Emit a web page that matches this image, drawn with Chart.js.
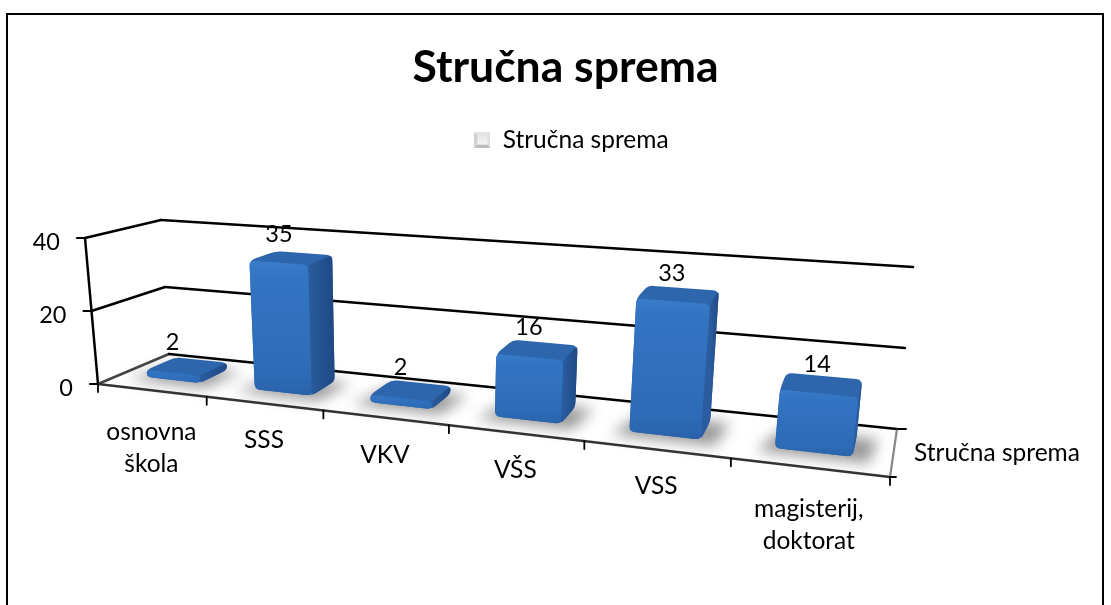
<!DOCTYPE html>
<html><head><meta charset="utf-8">
<style>html,body{margin:0;padding:0;background:#fff}canvas{display:block}</style>
<script src="https://cdn.jsdelivr.net/npm/chart.js@4"></script>
</head><body><canvas id="c" width="1111" height="605"></canvas>
<script>
const categories = [['osnovna','škola'],'SSS','VKV','VŠS','VSS',['magisterij,','doktorat']];
const seriesValues = [2,35,2,16,33,14];
const seriesName = 'Stručna sprema';
const titleText = 'Stručna sprema';
const yMax = 40, yStep = 20;
const FONT = 'Lato';

/* projected box of the 3D plot: [x,y] of corners, index = u + 2*v + 4*h */
const corners = [[98,384],[890,477],[169,354],[897,429],[85,238],[910,301],[161,220],[913,267]];
const wU = [1.257,1], wV = [1,1.09];
function P(u,v,h){
  let sx=0,sy=0,sw=0;
  for(let i=0;i<8;i++){
    const a=i&1,b=(i>>1)&1,c=(i>>2)&1;
    const bas=(a?u:1-u)*(b?v:1-v)*(c?h:1-h);
    const w=bas*(wU[0]+(wU[1]-wU[0])*a)*(wV[0]+(wV[1]-wV[0])*b);
    sx+=w*corners[i][0];sy+=w*corners[i][1];sw+=w;
  }
  return [sx/sw,sy/sw];
}
function line(ctx,a,b,col,lw){ctx.strokeStyle=col;ctx.lineWidth=lw;ctx.beginPath();ctx.moveTo(a[0],a[1]);ctx.lineTo(b[0],b[1]);ctx.stroke();}
function rpoly(ctx,pts,r){
  const n=pts.length;ctx.beginPath();
  for(let i=0;i<n;i++){
    const a=pts[i],nx=pts[(i+1)%n],pv=pts[(i+n-1)%n];
    const lp=Math.hypot(a[0]-pv[0],a[1]-pv[1]),ln=Math.hypot(a[0]-nx[0],a[1]-nx[1]);
    const r1=Math.min(r,lp*.45)/lp,r2=Math.min(r,ln*.45)/ln;
    const s=[a[0]+(pv[0]-a[0])*r1,a[1]+(pv[1]-a[1])*r1];
    const e=[a[0]+(nx[0]-a[0])*r2,a[1]+(nx[1]-a[1])*r2];
    if(i===0)ctx.moveTo(s[0],s[1]);else ctx.lineTo(s[0],s[1]);
    ctx.quadraticCurveTo(a[0],a[1],e[0],e[1]);
  }
  ctx.closePath();
}
function swatch(){
  const s=document.createElement('canvas');s.width=16;s.height=16;
  const x=s.getContext('2d');
  const tri=(pts,col)=>{x.fillStyle=col;x.beginPath();pts.forEach((p,i)=>i?x.lineTo(p[0],p[1]):x.moveTo(p[0],p[1]));x.closePath();x.fill();};
  tri([[0,0],[16,0],[8,8]],'#e4e4e4');
  tri([[0,0],[0,16],[8,8]],'#d2d2d2');
  tri([[16,0],[16,16],[8,8]],'#dedede');
  tri([[0,16],[16,16],[8,8]],'#bcbcbc');
  x.fillStyle='#eeeeee';x.fillRect(3,3,10,10);
  const g=x.createLinearGradient(0,3,0,13);g.addColorStop(0,'#e6e6e6');g.addColorStop(1,'#f4f4f4');
  x.fillStyle=g;x.fillRect(3,3,10,10);
  return s;
}
const V0=.31,V1=.73;
const plot3d={
  id:'plot3d',
  afterLayout(chart){chart.legend.left+=6;chart.legend.right+=6;},
  beforeDraw(chart){
    const c=chart.ctx;c.save();c.fillStyle='#fff';c.fillRect(0,0,1111,605);
    c.strokeStyle='#000';c.lineWidth=2;c.strokeRect(7,14,1096,640);c.restore();
  },
  afterDatasetsDraw(chart){
    const c=chart.ctx,ys=chart.scales.y,xs=chart.scales.x,area=chart.chartArea;
    const hOf=px=>(ys.bottom-px)/(ys.bottom-ys.top);
    c.save();c.lineCap='round';
    // walls & grid
    ys.ticks.forEach(t=>{
      const h=hOf(ys.getPixelForValue(t.value));
      line(c,P(0,0,h),P(0,1,h),h===0?'#444':'#000',2.5);
      line(c,P(0,1,h),P(1,1,h),'#000',2.5);
      const a=P(0,0,h);
      line(c,a,[a[0]-8,a[1]],'#000',2.2);
      c.fillStyle='#000';c.font='23.5px '+FONT;c.textAlign='right';c.textBaseline='middle';
      c.fillText(String(t.value),a[0]-25,a[1]+4);
    });
    line(c,P(0,0,0),P(0,0,1),'#000',2.5);
    line(c,P(0,0,0),P(1,0,0),'#333',2.5);
    line(c,P(1,0,0),P(1,1,0),'#888',2.2);
    // category tick marks and labels
    const n=categories.length;
    for(let i=0;i<=n;i++){
      const a=P(i/n,0,0);
      line(c,a,[a[0],a[1]+8],'#000',1.8);
    }
    const b1=P(1,0,0),b2=P(1,1,0);
    line(c,b1,[b1[0]+6,b1[1]],'#000',1.8);
    line(c,b2,[b2[0]+9,b2[1]],'#000',1.8);
    c.fillStyle='#000';c.font='24.5px '+FONT;c.textAlign='center';c.textBaseline='middle';
    xs.ticks.forEach((t,i)=>{
      const u=(xs.getPixelForValue(i)-area.left)/area.width;
      const p=P(u,0,0);
      const lab=categories[i];
      if(Array.isArray(lab)) lab.forEach((s,k)=>c.fillText(s,p[0],p[1]+42+k*32));
      else c.fillText(lab,p[0],p[1]+37);
    });
    c.textAlign='left';c.fillText(seriesName,914,453);
    // bars
    const meta=chart.getDatasetMeta(0);
    const boxes=meta.data.map((el,i)=>{
      const pr=el.getProps(['x','y','base','width'],true);
      return {u0:(pr.x-pr.width/2-area.left)/area.width,u1:(pr.x+pr.width/2-area.left)/area.width,
              uc:(pr.x-area.left)/area.width,h:hOf(pr.y),v:seriesValues[i]};
    });
    boxes.forEach(b=>{
      c.save();c.filter='blur(7px)';c.fillStyle='rgba(70,70,70,.55)';
      const d=.018;
      const q=[P(b.u0-d,V0-.1,0),P(b.u1+d,V0-.1,0),P(b.u1+d*1.3,V1,0),P(b.u0,V1,0)];
      c.beginPath();q.forEach((p,i)=>i?c.lineTo(p[0],p[1]):c.moveTo(p[0],p[1]));c.closePath();c.fill();
      c.restore();
    });
    boxes.forEach(b=>{
      const A=P(b.u0,V0,0),B=P(b.u1,V0,0),C=P(b.u1,V1,0);
      const E=P(b.u0,V0,b.h),F=P(b.u1,V0,b.h),G=P(b.u1,V1,b.h),H=P(b.u0,V1,b.h);
      c.save();c.filter='blur(0.6px)';
      // full silhouette in the top colour, side and front laid over it
      c.fillStyle='#2d66ad';rpoly(c,[A,B,C,G,H,E],6);c.fill();
      const gs=c.createLinearGradient(F[0],0,G[0],0);gs.addColorStop(0,'#2a5c9f');gs.addColorStop(1,'#1f4a85');
      c.fillStyle=gs;rpoly(c,[B,C,G,F],4);c.fill();
      const gf=c.createLinearGradient(0,Math.min(E[1],F[1]),0,Math.max(A[1],B[1]));
      gf.addColorStop(0,'#3a7cca');gf.addColorStop(.12,'#3374c3');gf.addColorStop(.85,'#2d6bb6');gf.addColorStop(1,'#2a62a9');
      c.fillStyle=gf;rpoly(c,[A,B,F,E],5);c.fill();
      c.restore();
      // value label
      const m=P(b.uc,.5,b.h);
      c.fillStyle='#000';c.font='23.5px '+FONT;c.textAlign='center';c.textBaseline='middle';
      c.fillText(String(b.v),m[0]-14+11*b.uc,m[1]-25+4*b.uc);
    });
    c.restore();
  }
};
new Chart(document.getElementById('c'),{
  type:'bar',
  data:{labels:categories,datasets:[{label:seriesName,data:seriesValues,backgroundColor:'rgba(0,0,0,0)',categoryPercentage:1,barPercentage:.5}]},
  options:{
    responsive:false,animation:false,
    layout:{padding:{left:20,right:0,top:0,bottom:0}},
    scales:{
      x:{display:false},
      y:{display:false,min:0,max:yMax,ticks:{stepSize:yStep}}
    },
    plugins:{
      tooltip:{enabled:false},
      title:{display:true,text:titleText,color:'#000',font:{family:FONT,size:44.5,weight:'bold'},padding:{top:41,bottom:24}},
      legend:{display:true,position:'top',labels:{
        color:'#000',font:{family:FONT,size:24.5},usePointStyle:true,pointStyleWidth:16,boxHeight:16,padding:9,
        generateLabels:()=>[{text:seriesName,pointStyle:swatch(),fillStyle:'#e0e0e0',strokeStyle:'#c4c4c4',lineWidth:0,datasetIndex:0}]
      }}
    }
  },
  plugins:[plot3d]
});
</script></body></html>
